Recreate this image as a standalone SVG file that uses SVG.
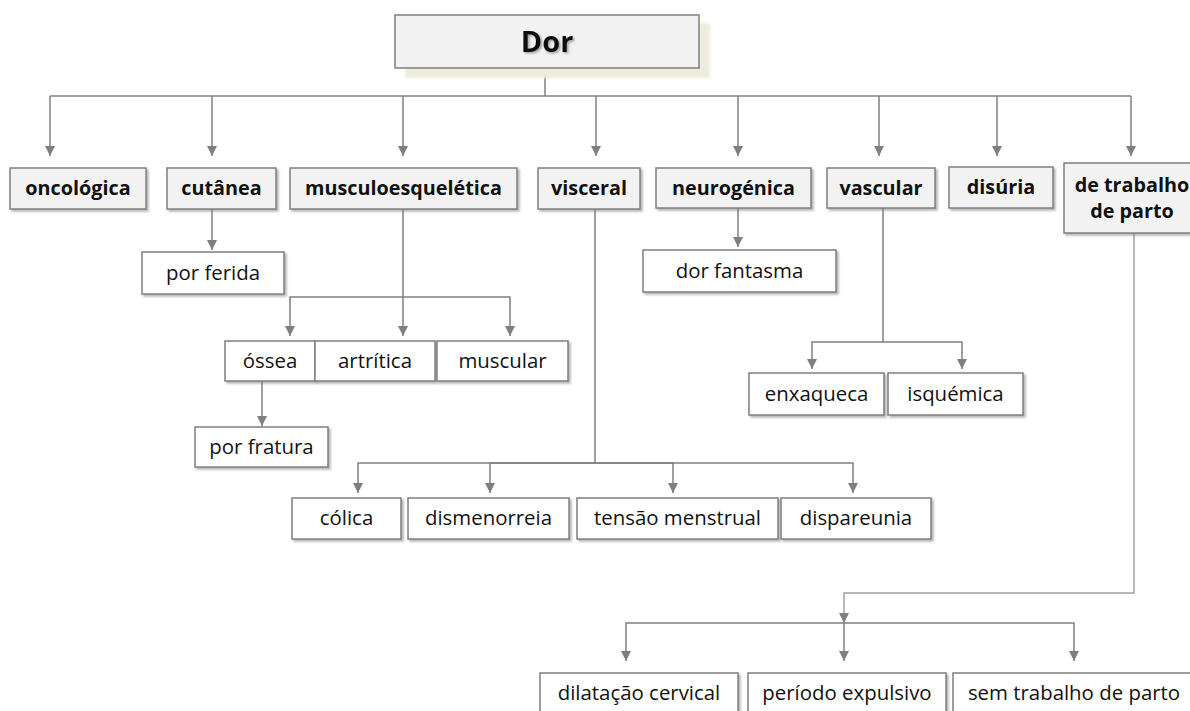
<svg xmlns="http://www.w3.org/2000/svg" width="1190" height="711" viewBox="0 0 1190 711">
  <defs>
    <style>
      .cat rect { fill: #f2f2f2; stroke: #7f7f7f; stroke-width: 1.5; filter: url(#sh); }
      .sub rect { fill: #ffffff; stroke: #7f7f7f; stroke-width: 1.5; filter: url(#sh); }
      .cat text { font-family: "Open Sans", "Liberation Sans", sans-serif; font-weight: bold; font-size: 19.8px; fill: #111; text-anchor: middle; }
      .sub text { font-family: "Open Sans", "Liberation Sans", sans-serif; font-size: 20.4px; fill: #111; text-anchor: middle; }
      #links path { fill: none; stroke: #808080; stroke-width: 1.5; marker-end: url(#arr); }
      #links path.plain { marker-end: none; }
    </style>
    <filter id="sh" x="-10%" y="-10%" width="130%" height="140%">
      <feDropShadow dx="2" dy="2" stdDeviation="1" flood-color="#7a7a7a" flood-opacity="0.55"/>
    </filter>
    <filter id="soft" x="-10%" y="-20%" width="120%" height="140%">
      <feGaussianBlur stdDeviation="1.5"/>
    </filter>
    <filter id="tsh" x="-10%" y="-10%" width="130%" height="130%">
      <feDropShadow dx="1.5" dy="1.5" stdDeviation="1" flood-color="#666" flood-opacity="0.6"/>
    </filter>
    <marker id="arr" markerUnits="userSpaceOnUse" viewBox="0 0 10 10" refX="10" refY="5" markerWidth="10" markerHeight="10" orient="auto">
      <path d="M0,0 L10,5 L0,10 z" fill="#7f7f7f"/>
    </marker>
  </defs>

  <rect width="1190" height="711" fill="#ffffff"/>

  <!-- connectors -->
  <g id="links">
    <path class="plain" d="M545,68 V96"/>
    <path class="plain" d="M50,96 H1131"/>
    <path d="M50,96 V156"/>
    <path d="M212,96 V156"/>
    <path d="M403,96 V156"/>
    <path d="M596,96 V156"/>
    <path d="M738,96 V156"/>
    <path d="M879,96 V156"/>
    <path d="M997,96 V156"/>
    <path d="M1131,96 V156"/>

    <path d="M212,209 V250"/>
    <path d="M738,208 V247"/>

    <path d="M403,209 V336"/>
    <path d="M403,297 H290 V336"/>
    <path d="M403,297 H510 V336"/>
    <path d="M262,381 V426"/>

    <path class="plain" d="M595,209 V463"/>
    <path d="M595,463 H358 V493"/>
    <path d="M595,463 H490 V493"/>
    <path d="M595,463 H673 V493"/>
    <path d="M595,463 H853 V493"/>

    <path class="plain" d="M883,208 V342"/>
    <path d="M883,342 H812 V369"/>
    <path d="M883,342 H962 V369"/>

    <path d="M1134,233 V593 H844 V623" style="stroke:#a0a0a0"/>
    <path d="M844,623 H626 V661"/>
    <path d="M844,623 V661"/>
    <path d="M844,623 H1074 V661"/>
  </g>

  <!-- root -->
  <g id="dor">
    <rect x="405" y="23" width="305" height="55" fill="#eeecdc" filter="url(#soft)"/>
    <rect x="395" y="15" width="304" height="53" fill="#f2f2f2" stroke="#7f7f7f" stroke-width="1.5"/>
    <text x="547" y="52" font-family="'Open Sans', 'Liberation Sans', sans-serif" font-weight="bold" font-size="29" fill="#111" text-anchor="middle" filter="url(#tsh)">Dor</text>
  </g>

  <!-- first level -->
  <g id="oncologica" class="cat"><rect x="10" y="168" width="136" height="41"/><text x="78" y="195">oncológica</text></g>
  <g id="cutanea" class="cat"><rect x="167" y="168" width="109" height="41"/><text x="221.5" y="195">cutânea</text></g>
  <g id="musculoesqueletica" class="cat"><rect x="290" y="168" width="227" height="41"/><text x="403.5" y="195">musculoesquelética</text></g>
  <g id="visceral" class="cat"><rect x="538" y="168" width="102" height="41"/><text x="589" y="195">visceral</text></g>
  <g id="neurogenica" class="cat"><rect x="656" y="168" width="155" height="40"/><text x="733.5" y="195">neurogénica</text></g>
  <g id="vascular" class="cat"><rect x="827" y="168" width="108" height="40"/><text x="881" y="195">vascular</text></g>
  <g id="disuria" class="cat"><rect x="949" y="167" width="104" height="41"/><text x="1001" y="194">disúria</text></g>
  <g id="trabalho-parto" class="cat"><rect x="1064" y="163" width="136" height="70"/><text x="1132" y="192">de trabalho</text><text x="1132" y="218">de parto</text></g>

  <!-- second level -->
  <g id="por-ferida" class="sub"><rect x="142" y="252" width="142" height="42"/><text x="213" y="280">por ferida</text></g>
  <g id="dor-fantasma" class="sub"><rect x="643" y="250" width="193" height="42"/><text x="739.5" y="278">dor fantasma</text></g>

  <g id="ossea" class="sub"><rect x="225" y="341" width="90" height="40"/><text x="270" y="368">óssea</text></g>
  <g id="artritica" class="sub"><rect x="315" y="341" width="120" height="40"/><text x="375" y="368">artrítica</text></g>
  <g id="muscular" class="sub"><rect x="437" y="341" width="131" height="40"/><text x="502.5" y="368">muscular</text></g>
  <g id="por-fratura" class="sub"><rect x="195" y="427" width="133" height="40"/><text x="261.5" y="454">por fratura</text></g>

  <g id="enxaqueca" class="sub"><rect x="749" y="373" width="135" height="42"/><text x="816.5" y="401">enxaqueca</text></g>
  <g id="isquemica" class="sub"><rect x="888" y="373" width="135" height="42"/><text x="955.5" y="401">isquémica</text></g>

  <g id="colica" class="sub"><rect x="292" y="498" width="109" height="41"/><text x="346.5" y="525">cólica</text></g>
  <g id="dismenorreia" class="sub"><rect x="408" y="498" width="161" height="41"/><text x="488.5" y="525">dismenorreia</text></g>
  <g id="tensao-menstrual" class="sub"><rect x="577" y="498" width="201" height="41"/><text x="677.5" y="525">tensão menstrual</text></g>
  <g id="dispareunia" class="sub"><rect x="781" y="498" width="150" height="41"/><text x="856" y="525">dispareunia</text></g>

  <g id="dilatacao" class="sub"><rect x="540" y="673" width="198" height="44"/><text x="639" y="700">dilatação cervical</text></g>
  <g id="periodo-expulsivo" class="sub"><rect x="748" y="673" width="198" height="44"/><text x="847" y="700">período expulsivo</text></g>
  <g id="sem-trabalho" class="sub"><rect x="953" y="673" width="243" height="44"/><text x="1074" y="700">sem trabalho de parto</text></g>
</svg>
